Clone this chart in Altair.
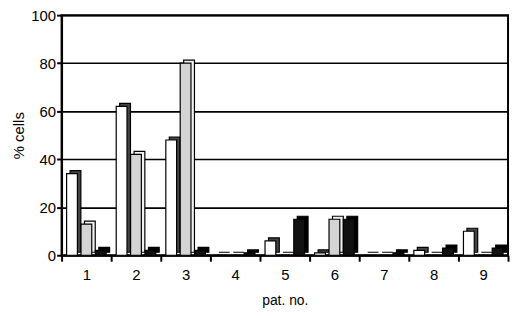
import altair as alt
import pandas as pd

patients = ["1", "2", "3", "4", "5", "6", "7", "8", "9"]
series = ["A", "B", "C"]
white_vals = [34, 62, 48, 0, 6, 1, 0, 2, 10]
grey_vals = [13, 42, 80, 0, 0, 15, 0, 0, 0]
black_vals = [2, 2, 2, 1, 15, 15, 1, 3, 3]

rows = []
for i, p in enumerate(patients):
    for s, vals in zip(series, [white_vals, grey_vals, black_vals]):
        rows.append({"pat": p, "series": s, "value": vals[i]})
df = pd.DataFrame(rows)

font = "Liberation Sans"
PLOT_W = 450
BAND = PLOT_W / len(patients)

x_enc = alt.X("pat:N", title="pat. no.", sort=patients,
              scale=alt.Scale(paddingInner=0, paddingOuter=0),
              axis=alt.Axis(labelAngle=0, tickBand="extent", domainColor="black",
                            domainWidth=2, tickColor="black", tickWidth=2, tickSize=6,
                            labelFont=font, labelFontSize=15, labelColor="black",
                            labelPadding=6, titleFont=font, titleFontSize=14,
                            titleFontWeight="normal", titleColor="black", titlePadding=12))
y_enc = alt.Y("value:Q", title="% cells",
              scale=alt.Scale(domain=[0, 100], nice=False),
              axis=alt.Axis(values=[0, 20, 40, 60, 80, 100], grid=True, gridColor="black",
                            gridWidth=1.6, gridOpacity=1, domainColor="black", domainWidth=2,
                            tickColor="black", tickWidth=2, tickSize=5,
                            labelFont=font, labelFontSize=15, labelColor="black",
                            labelPadding=1, titleFont=font, titleFontSize=15,
                            titleFontWeight="normal", titleColor="black", titlePadding=4))
front_off = alt.XOffset("series:N", sort=series,
                        scale=alt.Scale(paddingOuter=0.35, paddingInner=0.25, range=[0, BAND]))
back_off = alt.XOffset("series:N", sort=series,
                       scale=alt.Scale(paddingOuter=0.35, paddingInner=0.25, range=[3.5, BAND + 3.5]))

base = alt.Chart(df)
shadow = base.mark_bar(yOffset=-3, stroke="black", strokeWidth=1.2).encode(
    x=x_enc, y=y_enc, xOffset=back_off,
    color=alt.Color("series:N", sort=series, legend=None,
                    scale=alt.Scale(domain=series, range=["#444444", "#f2f2f2", "#000000"])),
)
front = base.mark_bar(stroke="black", strokeWidth=1.2).encode(
    x=x_enc, y=y_enc, xOffset=front_off,
    fill=alt.Fill("series:N", sort=series, legend=None,
                  scale=alt.Scale(domain=series, range=["#ffffff", "#d4d4d4", "#111111"])),
)

chart = alt.layer(shadow, front).resolve_scale(
    color="independent", fill="independent", xOffset="independent"
).properties(
    width=PLOT_W, height=242, background="white",
    autosize=alt.AutoSizeParams(type="none"),
    padding={"left": 54, "top": 6, "right": 4, "bottom": 56},
).configure_view(stroke="black", strokeWidth=2)

chart.save("out.html", embed_options={"renderer": "svg", "actions": False})
